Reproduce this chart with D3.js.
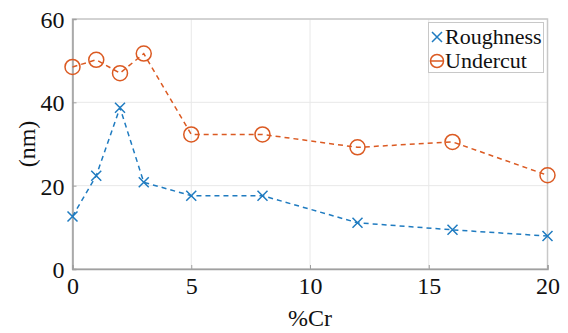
<!DOCTYPE html>
<html><head><meta charset="utf-8">
<script src="https://cdn.jsdelivr.net/npm/d3@7"></script>
<style>body{margin:0;background:#fff}svg{display:block}</style>
</head><body><svg id="c" width="568" height="333"></svg>
<script>
const cr = [0, 1, 2, 3, 5, 8, 12, 16, 20];
const roughness = [12.6, 22.4, 38.7, 20.8, 17.6, 17.6, 11.1, 9.4, 7.9];
const undercut = [48.5, 50.2, 47.0, 51.7, 32.3, 32.3, 29.2, 30.5, 22.5];
const xTicks = [0, 5, 10, 15, 20];
const yTicks = [0, 20, 40, 60];

const FONT = "'Liberation Serif', serif";
const svg = d3.select("#c");
const L = 72.5, R = 547.5, T = 19, B = 269;
const x = d3.scaleLinear().domain([0, 20]).range([L, R]);
const y = d3.scaleLinear().domain([0, 60]).range([B, T]);

svg.append("g").selectAll("line").data(xTicks).join("line")
  .attr("x1", d => x(d)).attr("x2", d => x(d)).attr("y1", T).attr("y2", B)
  .attr("stroke", "#e8e8e8").attr("stroke-width", 1);
svg.append("g").selectAll("line").data(yTicks).join("line")
  .attr("y1", d => y(d)).attr("y2", d => y(d)).attr("x1", L).attr("x2", R)
  .attr("stroke", "#e8e8e8").attr("stroke-width", 1);

svg.append("rect").attr("x", L).attr("y", T).attr("width", R - L).attr("height", B - T)
  .attr("fill", "none").attr("stroke", "#c8c8c8").attr("stroke-width", 1.5);

const xa = svg.append("g").attr("transform", `translate(0,${B})`)
  .call(d3.axisBottom(x).tickValues(xTicks).tickSize(-4).tickPadding(8));
const ya = svg.append("g").attr("transform", `translate(${L},0)`)
  .call(d3.axisLeft(y).tickValues(yTicks).tickSize(-4).tickPadding(8));
[xa, ya].forEach(g => {
  g.attr("font-family", null).attr("font-size", null);
  g.select(".domain").attr("stroke", "#a0a0a0").attr("stroke-width", 1.5);
  g.selectAll(".tick line").attr("stroke", "#a0a0a0");
  g.selectAll("text").attr("fill", "#111").style("font-size", "24px");
});
xa.selectAll("text").attr("dy", "0.71em");
ya.selectAll("text").attr("dy", "0.35em");

svg.append("text").attr("x", x(10)).attr("y", 326).attr("text-anchor", "middle")
  .style("font-size", "24px").attr("fill", "#111").text("%Cr");
svg.append("text").attr("transform", `translate(35,${(T + B) / 2}) rotate(-90)`)
  .attr("text-anchor", "middle").style("font-size", "24px").attr("fill", "#111").text("(nm)");

const blue = "#1f7bc0", orange = "#db5a22";
const line = vals => d3.line().x((d, i) => x(cr[i])).y(d => y(d))(vals);

svg.append("path").attr("d", line(roughness)).attr("fill", "none")
  .attr("stroke", blue).attr("stroke-width", 1.5).attr("stroke-dasharray", "5,4");
svg.append("path").attr("d", line(undercut)).attr("fill", "none")
  .attr("stroke", orange).attr("stroke-width", 1.5).attr("stroke-dasharray", "5,4");

const cross = (g, cx, cy, s, col) => {
  g.append("path").attr("d", `M${cx - s},${cy - s}L${cx + s},${cy + s}M${cx - s},${cy + s}L${cx + s},${cy - s}`)
    .attr("stroke", col).attr("stroke-width", 1.5).attr("fill", "none");
};
const gR = svg.append("g");
roughness.forEach((v, i) => cross(gR, x(cr[i]), y(v), 5, blue));
svg.append("g").selectAll("circle").data(undercut).join("circle")
  .attr("cx", (d, i) => x(cr[i])).attr("cy", d => y(d)).attr("r", 7.5)
  .attr("fill", "none").attr("stroke", orange).attr("stroke-width", 1.5);

const lg = svg.append("g");
lg.append("rect").attr("x", 428.5).attr("y", 22.5).attr("width", 115).attr("height", 50)
  .attr("fill", "#fff").attr("stroke", "#c8c8c8").attr("stroke-width", 1);
cross(lg, 437, 37, 5, blue);
lg.append("circle").attr("cx", 437).attr("cy", 61).attr("r", 6.5).attr("fill", "none")
  .attr("stroke", orange).attr("stroke-width", 1.5);
lg.append("line").attr("x1", 431).attr("x2", 443).attr("y1", 61).attr("y2", 61).attr("stroke", orange).attr("stroke-width", 1.5);
lg.append("text").attr("x", 445).attr("y", 44).style("font-size", "22px").attr("fill", "#111").text("Roughness");
lg.append("text").attr("x", 445).attr("y", 68).style("font-size", "22px").attr("fill", "#111").text("Undercut");

svg.selectAll("text").style("font-family", FONT, "important");
</script></body></html>
